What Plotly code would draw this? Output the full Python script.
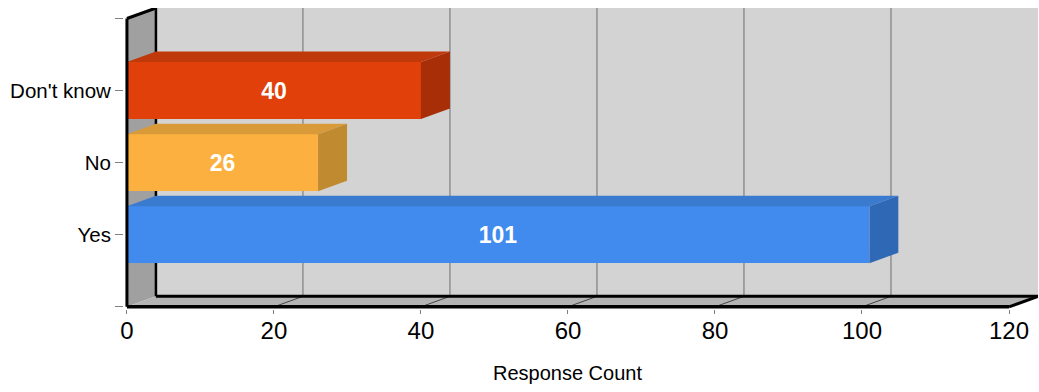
import plotly.graph_objects as go

# Survey answers and their response counts
categories = ["Yes", "No", "Don't know"]
counts = [101, 26, 40]
x_ticks = [0, 20, 40, 60, 80, 100, 120]

# Face colours for each bar: front, top, side
front_colors = ["#418BEE", "#FBB040", "#E1400A"]
top_colors = ["#3A7BD0", "#D99A3A", "#BF390A"]
side_colors = ["#2F69B6", "#C08A30", "#A82E08"]

FONT = "Liberation Sans, Arial, sans-serif"

# 3D depth of the chart box, in axis units
DX = 29 / 7.35
DY = 10.5 / 72
XMAX = 120
YMAX = 4
BAR_W = 0.79
XPAD = 0.4
YPAD = 0.03

pos = list(range(1, len(categories) + 1))

fig = go.Figure()
fig.add_trace(go.Bar(
    x=counts, y=pos, orientation="h", width=BAR_W,
    marker=dict(color=front_colors, line=dict(width=0)),
    text=[str(v) for v in counts], textposition="inside",
    insidetextanchor="middle",
    textfont=dict(family=FONT, size=23, color="white", weight="bold"),
    hoverinfo="skip",
))

shapes = []


def poly(pts, fill, layer="below", lw=0, lc=None):
    d = "M " + " L ".join(f"{x},{y}" for x, y in pts) + " Z"
    s = dict(type="path", path=d, xref="x", yref="y", fillcolor=fill,
             layer=layer, line=dict(width=lw, color=lc or fill))
    shapes.append(s)


def seg(x0, y0, x1, y1, color, width, layer="below"):
    shapes.append(dict(type="line", x0=x0, y0=y0, x1=x1, y1=y1,
                       xref="x", yref="y", layer=layer,
                       line=dict(color=color, width=width)))


# back wall
poly([(DX, DY), (XMAX + DX, DY), (XMAX + DX, YMAX + DY), (DX, YMAX + DY)], "#D3D3D3")
for v in x_ticks[1:-1]:
    seg(v + DX, DY, v + DX, YMAX + DY, "#6E6E6E", 1)
# left side wall
poly([(0, 0), (DX, DY), (DX, YMAX + DY), (0, YMAX)], "#A0A0A0")
# floor
poly([(0, 0), (XMAX, 0), (XMAX + DX, DY), (DX, DY)], "#B4B4B4")
for v in x_ticks[1:-1]:
    seg(v, 0, v + DX, DY, "#444444", 1)
# box edges
seg(DX, DY, DX, YMAX + DY, "black", 2.5)
seg(0, YMAX, DX, YMAX + DY, "black", 3)
seg(DX, DY, XMAX + DX, DY, "black", 3)
seg(XMAX, 0, XMAX + DX, DY, "black", 3)
seg(0, 0, XMAX, 0, "black", 3.5)

# top and side faces of the bars
for p, v, tc, sc in zip(pos, counts, top_colors, side_colors):
    y0, y1 = p - BAR_W / 2, p + BAR_W / 2
    poly([(0, y1), (v, y1), (v + DX, y1 + DY), (DX, y1 + DY)], tc, layer="above")
    poly([(v, y0), (v + DX, y0 + DY), (v + DX, y1 + DY), (v, y1)], sc, layer="above")
# front-left edge drawn over the bar tops
seg(0, 0, 0, YMAX, "black", 3, layer="above")

fig.update_layout(
    width=1039, height=392,
    margin=dict(l=124, r=1, t=8, b=83),
    paper_bgcolor="white", plot_bgcolor="white",
    showlegend=False, bargap=0,
    shapes=shapes,
    font=dict(family=FONT, color="black"),
    xaxis=dict(
        range=[-XPAD, XMAX + DX], tickvals=x_ticks,
        ticks="outside", ticklen=4, tickcolor="#808080", tickwidth=1,
        showgrid=False, zeroline=False, showline=False,
        tickfont=dict(size=24, family=FONT), ticklabelstandoff=-4,
        fixedrange=True,
    ),
    yaxis=dict(
        range=[-YPAD, YMAX + DY], tickvals=[0, 1, 2, 3, 4],
        ticktext=["", "Yes", "No", "Don't know", ""],
        ticks="outside", ticklen=8, tickcolor="#808080", tickwidth=1,
        showgrid=False, zeroline=False, showline=False,
        tickfont=dict(size=20.5, family=FONT), ticklabelstandoff=0,
        fixedrange=True,
    ),
    annotations=[dict(
        text="Response Count", x=XMAX / 2, y=-0.213, xref="x", yref="paper",
        xanchor="center", yanchor="middle", showarrow=False,
        font=dict(size=20, family=FONT, color="black"),
    )],
)

fig.write_html("out.html")
